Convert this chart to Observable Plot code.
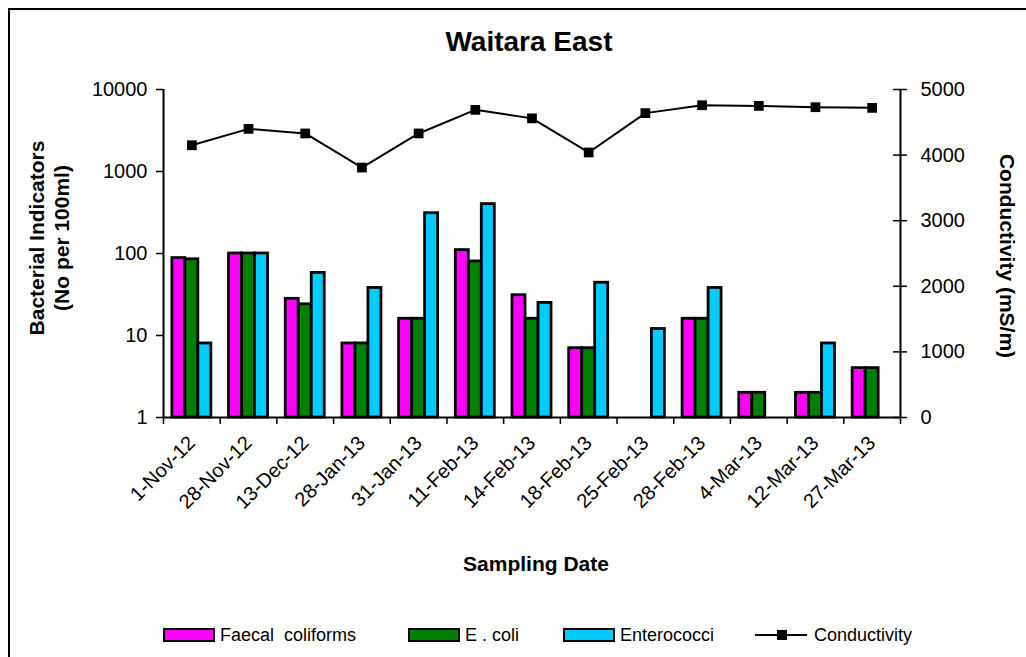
<!DOCTYPE html>
<html>
<head>
<meta charset="utf-8">
<script src="https://cdn.jsdelivr.net/npm/d3@7"></script>
<script src="https://cdn.jsdelivr.net/npm/@observablehq/plot@0.6"></script>
<style>
  html, body { margin: 0; padding: 0; background: #fff; overflow: hidden; }
  #wrap { position: relative; width: 1026px; height: 657px; font-family: "Liberation Sans", Arial, sans-serif; color: #000; }
  #border { position: absolute; left: 8px; top: 8px; width: 1040px; height: 680px; border: 2px solid #000; box-sizing: border-box; }
  #chart { position: absolute; left: 0; top: 0; }
  .lbl { position: absolute; font-weight: bold; white-space: nowrap; transform: translate(-50%, -50%); }
  .rot { transform: translate(-50%, -50%) rotate(-90deg); }
  .rot90 { transform: translate(-50%, -50%) rotate(90deg); }
  #legend { position: absolute; top: 624px; left: 0; width: 1026px; font-size: 18px; }
  .item { position: absolute; top: 0; display: flex; align-items: center; white-space: pre; height: 22px; }
  .sw { width: 48px; height: 10px; border: 2px solid #000; margin-right: 5px; }
</style>
</head>
<body>
<div id="wrap">
  <div id="border"></div>
  <div id="chart"></div>
  <div class="lbl" style="left:529px; top:42px; font-size:28px;">Waitara East</div>
  <div class="lbl rot" style="left:37px; top:238px; font-size:21px;">Bacterial Indicators</div>
  <div class="lbl rot" style="left:62px; top:238px; font-size:21px;">(No per 100ml)</div>
  <div class="lbl rot90" style="left:1007px; top:256px; font-size:21px;">Conductivity (mS/m)</div>
  <div class="lbl" style="left:536px; top:564px; font-size:21px;">Sampling Date</div>
  <div id="legend"></div>
</div>
<script>
const dates = ["1-Nov-12","28-Nov-12","13-Dec-12","28-Jan-13","31-Jan-13","11-Feb-13","14-Feb-13","18-Feb-13","25-Feb-13","28-Feb-13","4-Mar-13","12-Mar-13","27-Mar-13"];
const faecal = [88, 100, 28, 8, 16, 110, 31, 7, null, 16, 2, 2, 4];
const ecoli = [85, 100, 24, 8, 16, 80, 16, 7, null, 16, 2, 2, 4];
const entero = [8, 100, 58, 38, 310, 400, 25, 44, 12, 38, null, 8, null];
const conductivity = [4150, 4400, 4330, 3810, 4330, 4690, 4560, 4040, 4640, 4760, 4750, 4730, 4720];
const leftTicks = [1, 10, 100, 1000, 10000];
const rightTicks = [0, 1000, 2000, 3000, 4000, 5000];
const seriesNames = ["Faecal  coliforms", "E . coli", "Enterococci"];
const seriesColors = ["#FF00FF", "#008000", "#00CCFF"];
const seriesValues = [faecal, ecoli, entero];

const W = 1026, H = 657, mL = 163, mR = 126, mT = 89, mB = 240;
const n = dates.length;
const plotW = W - mL - mR;
const band = plotW / n;
const ux = n / plotW;
const barW = 13;
const groupOff = (band - 3 * barW) / 2;
const condMax = 5000;
const toLog = c => Math.pow(10, 4 * c / condMax);

const rows = arr => arr.map((v, i) => ({i, v})).filter(d => d.v != null);
const condRows = conductivity.map((c, i) => ({i, c}));

const barMarks = seriesValues.map((arr, k) => Plot.rectY(rows(arr), {
  x1: d => d.i, x2: d => d.i + 1, y1: 1, y2: d => d.v,
  fill: seriesColors[k], stroke: "black", strokeWidth: 2.8,
  insetLeft: groupOff + k * barW, insetRight: band - groupOff - (k + 1) * barW
}));

const chart = Plot.plot({
  width: W, height: H,
  marginLeft: mL, marginRight: mR, marginTop: mT, marginBottom: mB,
  style: {fontFamily: '"Liberation Sans", Arial, sans-serif', fontSize: "19px", color: "black", background: "transparent"},
  x: {domain: [0, n]},
  y: {type: "log", domain: [1, 10000]},
  marks: [
    ...barMarks,
    Plot.ruleX([0, n], {stroke: "black", strokeWidth: 2}),
    Plot.ruleY([1], {stroke: "black", strokeWidth: 2}),
    Plot.axisY({ticks: leftTicks, tickFormat: d => String(d), tickSize: 7, tickPadding: 9, strokeWidth: 1.5, label: null, fontSize: 20}),
    Plot.ruleY(rightTicks.map(toLog), {x1: n - 7 * ux, x2: n + 7 * ux, stroke: "black", strokeWidth: 1.5}),
    Plot.text(rightTicks, {x: n, y: d => toLog(d), text: d => String(d), dx: 20, textAnchor: "start", fontSize: 20}),
    Plot.axisX({ticks: d3.range(n + 1), tickSize: 7, tickFormat: () => "", strokeWidth: 1.5, label: null}),
    Plot.axisX({ticks: d3.range(n).map(i => i + 0.5), tickSize: 0, tickPadding: 22, tickRotate: -45, tickFormat: d => dates[Math.floor(d)], fontSize: 20, label: null}),
    Plot.line(condRows, {x: d => d.i + 0.5, y: d => toLog(d.c), stroke: "black", strokeWidth: 2}),
    Plot.dot(condRows, {x: d => d.i + 0.5, y: d => toLog(d.c), symbol: "square", r: 5.5, fill: "black", stroke: "none"})
  ]
});
document.getElementById("chart").appendChild(chart);

// legend
const legend = document.getElementById("legend");
const lefts = [163, 408, 563];
seriesNames.forEach((name, k) => {
  const it = document.createElement("div");
  it.className = "item";
  it.style.left = lefts[k] + "px";
  it.innerHTML = `<div class="sw" style="background:${seriesColors[k]}"></div><span>${name}</span>`;
  legend.appendChild(it);
});
const li = document.createElement("div");
li.className = "item";
li.style.left = "755px";
li.innerHTML = `<svg width="54" height="14" style="margin-right:5px"><line x1="0" y1="7" x2="52" y2="7" stroke="black" stroke-width="2"/><rect x="22" y="2" width="10" height="10" fill="black"/></svg><span>Conductivity</span>`;
legend.appendChild(li);
</script>
</body>
</html>
